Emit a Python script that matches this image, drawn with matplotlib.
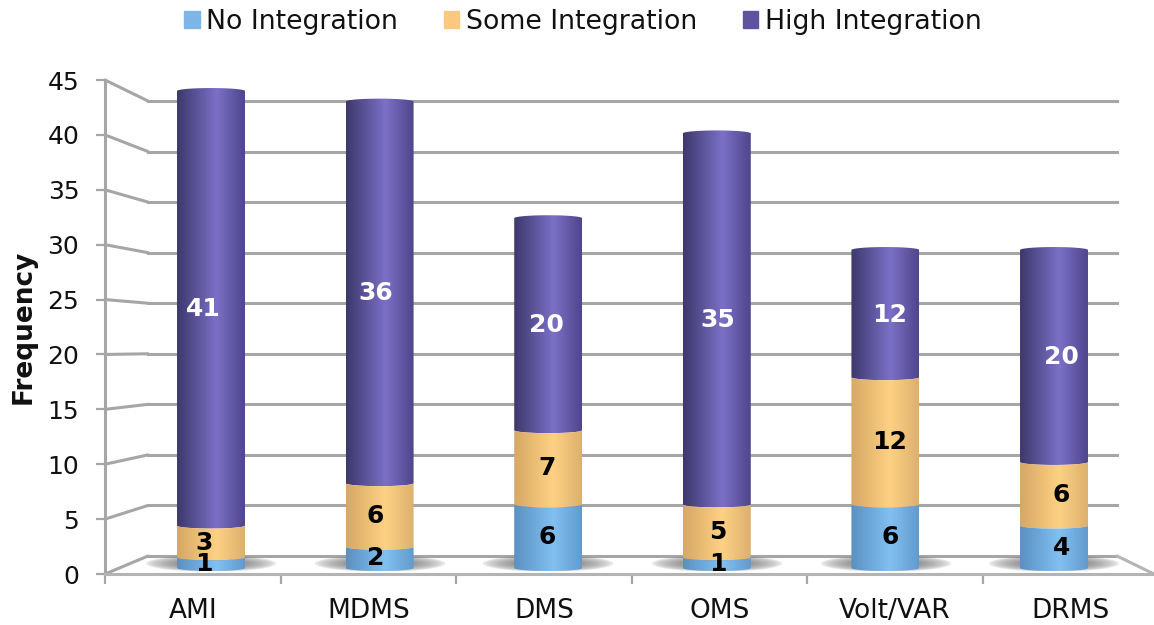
import numpy as np
import matplotlib
matplotlib.use("Agg")
import matplotlib.pyplot as plt
from matplotlib.colors import LinearSegmentedColormap
from matplotlib.patches import ConnectionPatch, Patch
from matplotlib.path import Path

# Values
categories = ["AMI", "MDMS", "DMS", "OMS", "Volt/VAR", "DRMS"]
no_integration = [1, 2, 6, 1, 6, 4]
some_integration = [3, 6, 7, 5, 12, 6]
high_integration = [41, 36, 20, 35, 12, 20]
series_names = ["No Integration", "Some Integration", "High Integration"]
y_ticks = [0, 5, 10, 15, 20, 25, 30, 35, 40, 45]

W, H = 1154, 625
GRID = "#a6a6a6"
legend_colors = ["#7cb5e6", "#fcc77e", "#5f539f"]
# left edge, highlight, right edge of each cylinder
shades = [
    ["#5a90c2", "#82c0f2", "#629acc"],
    ["#d6a866", "#fdd183", "#dcb06e"],
    ["#3d386c", "#7b70c6", "#4f458b"],
]
label_colors = ["black", "black", "white"]


def px_axes(left, right, top, bottom, zorder):
    a = fig.add_axes([left / W, 1 - bottom / H, (right - left) / W, (bottom - top) / H], zorder=zorder)
    a.patch.set_visible(False)
    return a


fig = plt.figure(figsize=(W / 100, H / 100), dpi=100)

# Back wall with the gridlines
back = px_axes(148, 1117, 101, 556, 0)
back.set_ylim(0, 45)
back.set_xlim(0, 1)
back.set_yticks(y_ticks)
back.set_xticks([])
back.tick_params(left=False, labelleft=False)
back.grid(axis="y", color=GRID, lw=2.2)
for line in back.get_ygridlines():
    line.set_clip_on(False)
for s in back.spines.values():
    s.set_visible(False)

# Front axis carrying the ticks and labels
front = px_axes(105, 1154, 80, 574, 2)
front.set_ylim(0, 45)
front.set_xlim(-0.5, 5.475)
front.set_yticks(y_ticks)
front.set_xticks(np.arange(-0.5, 5.5, 1))
front.set_xticklabels([])
front.set_xticks(np.arange(len(categories)), labels=categories, minor=True)
front.tick_params(axis="y", length=6.5, width=1.6, color=GRID, pad=12, labelsize=18, labelcolor="#111111")
front.tick_params(axis="x", which="major", length=7.5, width=1.6, color=GRID)
front.tick_params(axis="x", which="minor", length=0, pad=17, labelsize=19, labelcolor="#111111")
front.spines["top"].set_visible(False)
front.spines["right"].set_visible(False)
front.spines["left"].set_color(GRID)
front.spines["left"].set_linewidth(2.2)
front.spines["bottom"].set_color("#b4b4b4")
front.spines["bottom"].set_linewidth(2.2)
front.set_ylabel("Frequency", fontsize=19, fontweight="bold", color="#111111", labelpad=8)

# Slanted side wall and floor edges
for v in y_ticks:
    fig.add_artist(ConnectionPatch((0, v), (0, v), coordsA=front.get_yaxis_transform(),
                                   coordsB=back.get_yaxis_transform(), color=GRID, lw=2.2, zorder=1))
fig.add_artist(ConnectionPatch((1, 0), (1, 0), coordsA=front.get_yaxis_transform(),
                               coordsB=back.get_yaxis_transform(), color="#b4b4b4", lw=2.2, zorder=1))

# Cylinders
bars = px_axes(126.7, 1138.3, 80.4, 578.6, 3)
bars.axis("off")

bar_w = 0.403
cap = 0.28
t = np.linspace(0, np.pi, 60)
x_pos = np.arange(len(categories))

# soft shadow on the floor
gx, gy = np.meshgrid(np.linspace(-1, 1, 260), np.linspace(-1, 1, 80))
fade = np.clip(1 - np.sqrt(gx**2 + (gy * 0.9)**2), 0, 1) ** 0.55
shadow = np.zeros(fade.shape + (4,))
shadow[..., :3] = 0.2
shadow[..., 3] = fade * 0.75
for x in x_pos:
    bars.imshow(shadow, extent=(x - 0.39, x + 0.39, -0.25, 1.15), aspect="auto", zorder=1,
                interpolation="bilinear")

bottoms = np.zeros(len(categories))
for k, vals in enumerate([no_integration, some_integration, high_integration]):
    cmap = LinearSegmentedColormap.from_list(f"c{k}", [(0, shades[k][0]), (0.58, shades[k][1]), (1, shades[k][2])])
    grad = np.linspace(0, 1, 256).reshape(1, -1)
    for i, x in enumerate(x_pos):
        y0, y1 = bottoms[i], bottoms[i] + vals[i]
        arc_x = bar_w / 2 * np.cos(t)
        arc_y = cap * np.sin(t)
        # lower edge left to right, then the top edge back
        low = np.column_stack([x - arc_x, y0 - arc_y])
        if k == 2:
            high = np.column_stack([x + arc_x, y1 + arc_y])
        else:
            high = np.column_stack([x - arc_x, y1 - arc_y])[::-1]
        verts = np.vstack([low, high, low[:1]])
        im = bars.imshow(grad, cmap=cmap, extent=(x - bar_w / 2, x + bar_w / 2, y0 - 1, y1 + 1),
                         aspect="auto", zorder=2 + (2 - k) * 0.1, interpolation="bilinear")
        im.set_clip_path(Path(verts), transform=bars.transData)
        # labels spread slightly wider than the bars
        bars.text(x + (x - 2.5) * 0.017, (y0 + y1) / 2 - 0.1, str(vals[i]), ha="center", va="center",
                  fontsize=18, fontweight="bold", color=label_colors[k], zorder=5)
    bottoms = bottoms + np.array(vals)

bars.set_xlim(-0.5, 5.5)
bars.set_ylim(-1, 46)

# Legend
handles = [Patch(color=c, label=n) for c, n in zip(legend_colors, series_names)]
fig.legend(handles=handles, loc="upper center", bbox_to_anchor=(583 / W, 1.024), ncol=3, frameon=False,
           fontsize=19.3, handlelength=0.58, handleheight=0.58, handletextpad=0.25, columnspacing=1.7,
           labelcolor="#111111")

fig.savefig("out.png", dpi=100)
